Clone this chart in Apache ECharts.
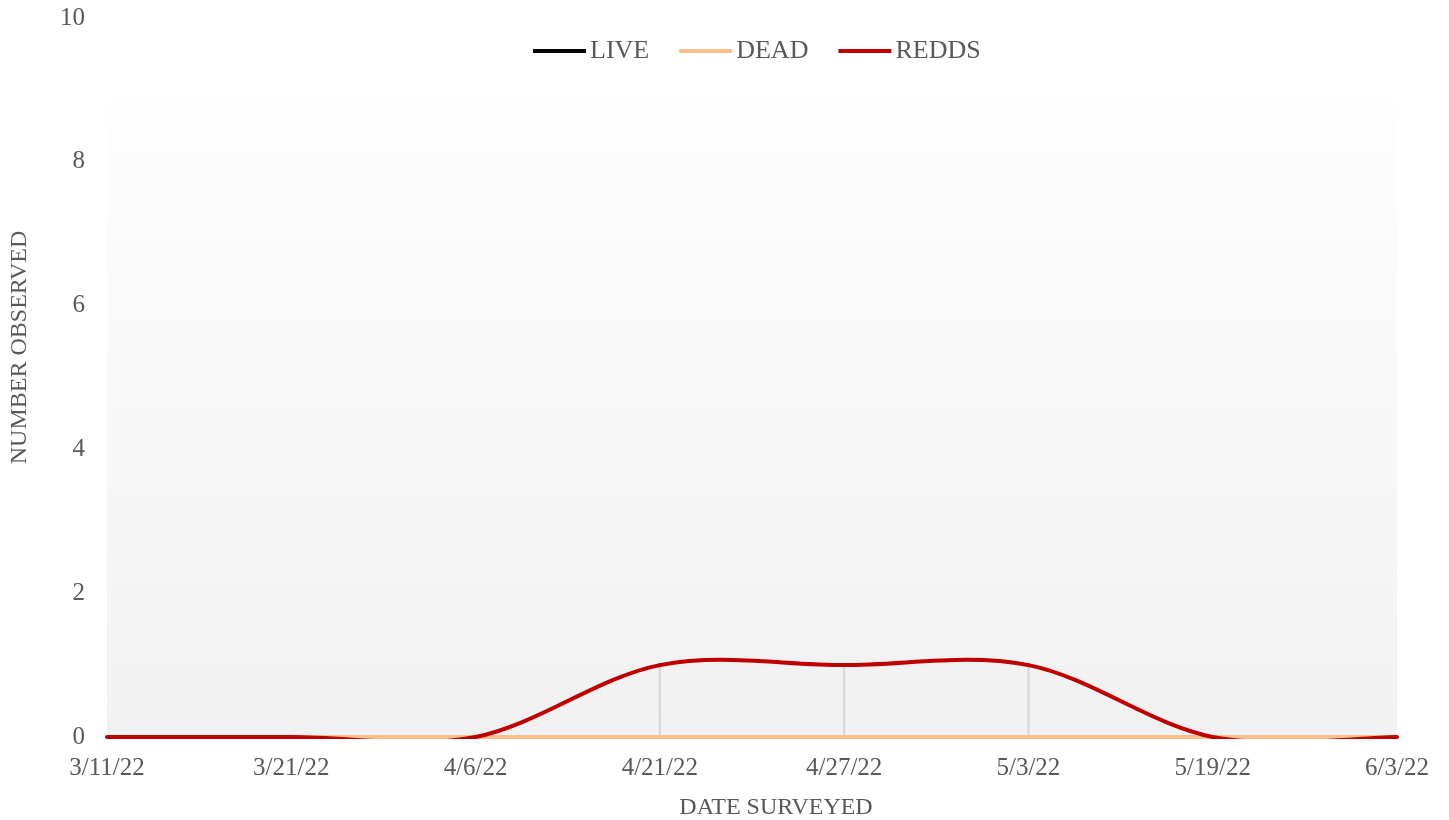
<!DOCTYPE html>
<html><head><meta charset="utf-8">
<script src="https://cdn.jsdelivr.net/npm/echarts@6/dist/echarts.min.js"></script>
<style>html,body{margin:0;padding:0;background:#fff}#c{width:1449px;height:820px}</style>
</head><body><div id="c"></div>
<script>
const categories = ['3/11/22','3/21/22','4/6/22','4/21/22','4/27/22','5/3/22','5/19/22','6/3/22'];
const live  = [0,0,0,0,0,0,0,0];
const dead  = [0,0,0,0,0,0,0,0];
const redds = [0,0,0,1,1,1,0,0];
const yTicks = {min:0, max:10, interval:2};

const font = '"Liberation Serif", "DejaVu Serif", serif';
const txt = '#595959';

// Catmull-Rom smoothed line drawn segment by segment through the axis scales
function smoothSeries(name, values, color, z){
  return {
    name:name, type:'custom', z:z, clip:false,
    itemStyle:{color:color}, lineStyle:{color:color,width:4},
    encode:{x:0,y:1},
    data: values.map((v,i)=>[i,v]),
    renderItem:function(params, api){
      const i = params.dataIndex, n = values.length;
      if (i >= n-1) return null;
      const P = k => { k = Math.max(0, Math.min(n-1, k)); return api.coord([k, values[k]]); };
      const p0 = P(i-1), p1 = P(i), p2 = P(i+1), p3 = P(i+2);
      const c1 = [p1[0] + (p2[0]-p0[0])/6, p1[1] + (p2[1]-p0[1])/6];
      const c2 = [p2[0] - (p3[0]-p1[0])/6, p2[1] - (p3[1]-p1[1])/6];
      const cs = params.coordSys;
      return {type:'bezierCurve',
        shape:{x1:p1[0],y1:p1[1],x2:p2[0],y2:p2[1],cpx1:c1[0],cpy1:c1[1],cpx2:c2[0],cpy2:c2[1]},
        clipPath:{type:'rect',shape:{x:cs.x-3,y:cs.y-3,width:cs.width+6,height:cs.height+5}},
        style:{stroke:color,lineWidth:4,fill:null,lineCap:'round'}};
    }
  };
}

const chart = echarts.init(document.getElementById('c'));
chart.setOption({
  animation:false,
  backgroundColor:'#fff',
  textStyle:{fontFamily:font},
  graphic:[{type:'rect', z:-10, shape:{x:107,y:101,width:1290,height:636},
    style:{fill:new echarts.graphic.LinearGradient(0,0,0,1,[{offset:0,color:'#fefefe'},{offset:1,color:'#f1f1f1'}])}}],
  legend:{top:33,left:528,itemWidth:53,itemHeight:4,itemGap:30,
    textStyle:{fontFamily:font,fontSize:26,color:txt,padding:[0,0,0,-1]},
    data:['LIVE','DEAD','REDDS'], icon:'rect'},
  grid:{left:107,right:52,top:18,bottom:83,containLabel:false,outerBoundsMode:'none'},
  xAxis:{type:'category',data:categories,boundaryGap:false,
    name:'DATE SURVEYED',nameLocation:'middle',nameGap:59,
    nameTextStyle:{fontFamily:font,fontSize:24,color:txt,padding:[0,0,0,48]},
    axisLine:{show:false},axisTick:{show:false},
    axisLabel:{fontFamily:font,fontSize:25,color:txt,margin:19}},
  yAxis:{type:'value',min:yTicks.min,max:yTicks.max,interval:yTicks.interval,
    name:'NUMBER OBSERVED',nameLocation:'middle',nameGap:87,nameRotate:90,
    nameTextStyle:{fontFamily:font,fontSize:24,color:txt,verticalAlign:'middle',padding:[0,0,0,60]},
    axisLine:{show:false},axisTick:{show:false},splitLine:{show:false},
    axisLabel:{fontFamily:font,fontSize:25,color:txt,margin:22}},
  series:[
    {name:'drop',type:'bar',data:redds,barWidth:2,itemStyle:{color:'#d6d6d6'},z:1,silent:true,legendHoverLink:false},
    {name:'LIVE',type:'line',data:live,symbol:'none',lineStyle:{width:4,color:'#000'},itemStyle:{color:'#000'},z:2},
    {name:'DEAD',type:'line',data:dead,symbol:'none',lineStyle:{width:4,color:'#f9bf8a'},itemStyle:{color:'#f9bf8a'},z:3},
    smoothSeries('REDDS', redds, '#c00000', 4)
  ]
});
</script></body></html>
